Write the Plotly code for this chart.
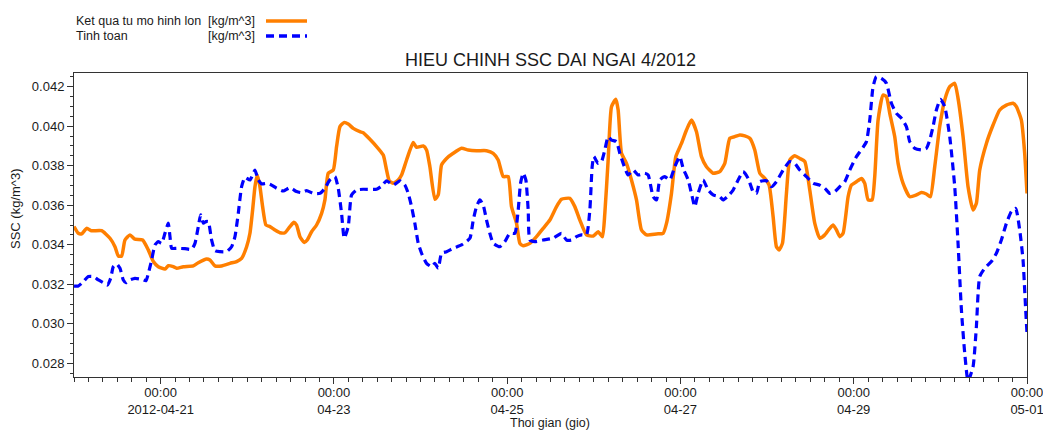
import pandas as pd
import plotly.graph_objects as go

# Hours since 2012-04-20 00:00 and SSC values (kg/m^3)
model_hours = [0.0, 1.2, 2.12, 3.51, 4.89, 7.66, 9.97, 11.35, 12.28, 13.2, 14.12, 15.51, 16.89, 19.01, 20.58,
               21.97, 23.35, 25.2, 26.12, 27.51, 28.43, 30.28, 33.05, 34.43, 36.74, 37.66, 39.05, 40.89, 43.2,
               45.05, 46.43, 47.82, 48.74, 49.48, 50.13, 50.77, 51.51, 52.25, 53.17, 54.28, 55.66, 57.05, 58.43,
               59.82, 60.93, 61.66, 62.59, 63.79, 64.62, 65.82, 67.2, 68.59, 69.51, 70.43, 71.82, 72.74, 73.67,
               74.77, 75.97, 77.36, 79.2, 80.13, 81.97, 83.82, 85.67, 86.59, 87.33, 88.43, 89.82,
               90.74, 92.13, 93.97, 94.9, 96.74, 97.66, 98.59, 99.97, 100.9, 101.82, 103.2, 105.05, 107.36, 109.2,
               111.51, 114.28, 116.13, 117.51, 118.9, 120.28, 121.2, 122.59, 123.51, 124.43, 126.28, 128.13,
               129.97, 131.82, 133.67, 135.05, 137.36, 138.74, 140.13, 141.97, 143.82, 145.2, 146.4, 147.05,
               147.97, 148.9, 150.1, 150.74, 151.67, 153.05, 154.43, 155.82, 157.2, 158.59, 161.36, 163.2, 164.13,
               165.51, 166.71, 168.28, 169.67, 171.05, 172.44, 173.82, 175.2, 177.05, 178.9,
               180.28, 181.67, 183.05, 184.44, 185.82, 187.21, 188.59, 189.98, 191.36, 192.56, 193.67, 194.59,
               195.33, 196.25, 197.36, 198.28, 199.67, 201.05, 202.44, 203.82, 205.21, 206.59, 207.98, 209.36,
               210.29, 211.21, 212.13, 213.05, 214.44, 215.36, 216.75, 218.13, 219.05, 219.98, 221.09, 221.82,
               222.75, 224.13, 225.05, 225.98, 227.36, 228.29, 229.67, 231.52, 233.36, 234.75, 236.13, 237.24,
               238.44, 239.82, 241.21, 242.6, 243.98, 244.9, 246.29, 247.67, 249.06, 249.98, 250.9, 252.75,
               254.6, 256.44, 258.29, 260.13, 261.06, 262.44, 263.36, 264.0]
model_ssc = [0.03492, 0.03458, 0.03455, 0.03483, 0.03471, 0.03471, 0.03433, 0.0339, 0.03343, 0.03343, 0.03424,
             0.0345, 0.03428, 0.03424, 0.03374, 0.03315, 0.03289, 0.03277, 0.03294, 0.03289, 0.03281, 0.03289,
             0.03293, 0.03309, 0.03328, 0.03323, 0.03293, 0.03293, 0.03306, 0.03315, 0.03331, 0.0339, 0.03458,
             0.03576, 0.03694, 0.03753, 0.03694, 0.03593, 0.035, 0.03492, 0.03475, 0.03461, 0.03461, 0.03492,
             0.03514, 0.035, 0.03441, 0.03411, 0.03424, 0.03466, 0.035, 0.03559, 0.03627, 0.03762, 0.03778,
             0.03897, 0.03998, 0.04018, 0.04011, 0.03989, 0.03972, 0.03967, 0.03934, 0.03897, 0.03854, 0.03778,
             0.03724, 0.03711, 0.03728,
             0.03753, 0.03829, 0.03917, 0.03893, 0.039, 0.0388, 0.03795, 0.0363, 0.03652, 0.03804, 0.03837,
             0.03863, 0.03888, 0.0388, 0.03876, 0.03876, 0.03863, 0.03829, 0.03745, 0.03745, 0.03593, 0.03508,
             0.03407, 0.03395, 0.03407, 0.03441, 0.03483, 0.03525, 0.03593, 0.0363, 0.03635, 0.03593, 0.03525,
             0.0345, 0.03444, 0.03466, 0.03441, 0.03559, 0.03829, 0.04099, 0.04136, 0.04082, 0.03863, 0.03812,
             0.03728, 0.03627, 0.03475, 0.0345, 0.03455, 0.03458, 0.03508, 0.0366, 0.03846, 0.03913, 0.03981,
             0.04031, 0.03972, 0.03846, 0.03795, 0.03762, 0.0377,
             0.03812, 0.03939, 0.03947, 0.03956, 0.03951, 0.03939, 0.0388, 0.03762, 0.03736, 0.03702, 0.03542,
             0.0339, 0.03374, 0.03407, 0.0366, 0.03829, 0.03851, 0.03837, 0.03821, 0.03677, 0.03508, 0.03433,
             0.0345, 0.03483, 0.035, 0.03475, 0.03441, 0.03458, 0.03643, 0.03702, 0.03719, 0.03736, 0.03711,
             0.03627, 0.03627, 0.03745, 0.04031, 0.04158, 0.0415, 0.04065, 0.03947, 0.03812, 0.03711, 0.03643,
             0.03652, 0.03664, 0.03657, 0.03643, 0.03795, 0.03998, 0.04133, 0.042, 0.04217, 0.04141, 0.03947,
             0.03694, 0.03576, 0.0361, 0.03778, 0.03913, 0.04006, 0.04082, 0.04107, 0.04116, 0.04099, 0.04031,
             0.03863, 0.0366]

calc_hours = [0.0, 1.2, 2.58, 3.97, 5.35, 6.74, 8.12, 9.23, 10.15, 10.89, 11.82, 12.74, 13.66, 14.4, 15.51, 16.89,
              18.74, 19.94, 20.59, 21.51, 22.43, 23.35, 24.28, 25.2, 26.12, 26.59, 27.05, 28.43, 30.74, 32.59,
              33.51, 34.43, 35.08, 35.82, 36.55, 37.2, 38.12, 39.05, 40.43, 42.28, 43.66, 44.59, 45.51, 46.43,
              47.35, 48.74, 50.12, 51.05, 51.97, 53.36, 54.74, 56.12, 57.97, 59.82, 61.66, 63.05, 64.43, 66.28,
              68.12, 69.51, 70.89, 72.28, 73.2, 74.12, 74.86, 75.97, 76.89, 78.28, 80.13, 83.82, 85.2, 86.59,
              88.43, 89.82,
              90.28, 91.66, 92.59, 93.51, 94.43, 95.36, 96.28, 97.66, 99.05, 99.97, 100.9, 101.82, 103.2, 105.05,
              107.36, 109.67, 110.59, 111.51, 112.43, 113.36, 114.28, 115.2, 116.13, 117.97, 119.36, 120.74,
              122.13, 123.05, 123.7, 124.43, 125.17, 125.82, 126.28, 127.67, 129.97, 132.74, 135.05, 136.43,
              137.82, 139.2, 140.59, 141.97, 142.9, 143.54, 144.0, 145.2, 146.13, 147.05, 147.97, 148.9, 150.28,
              151.2, 152.13, 153.51, 154.9, 156.28, 158.13, 159.05, 160.44, 161.36, 162.28, 163.67, 165.05,
              166.44, 167.82, 168.74, 170.13, 171.05, 171.97, 172.9, 174.28, 175.67, 177.05, 178.9,
              179.82, 181.21, 182.59, 183.98, 185.36, 186.75, 188.13, 189.05, 189.98, 191.82, 193.21, 194.59,
              196.44, 198.28, 199.67, 201.05, 202.9, 204.75, 206.59, 207.98, 209.36, 210.75, 212.13, 213.52,
              214.9, 216.75, 218.59, 219.52, 220.44, 221.36, 222.29, 223.67, 225.06, 226.44, 227.82, 229.21,
              230.59, 231.52, 232.9, 234.75, 236.13, 237.06, 237.98, 238.9, 240.01, 241.21, 242.6, 243.98,
              244.9, 245.83, 246.75, 247.67, 249.06, 249.98, 250.9, 252.29, 254.13, 255.52, 256.9, 258.29,
              259.67, 260.87, 261.98, 262.9, 263.64, 264.0]
calc_ssc = [0.03191, 0.03191, 0.03213, 0.03239, 0.03239, 0.03222, 0.03208, 0.03196, 0.0323, 0.03289, 0.03303,
            0.03281, 0.03222, 0.03208, 0.03222, 0.0323, 0.03225, 0.03218, 0.03255, 0.03323, 0.03399, 0.03416,
            0.03407, 0.03458, 0.03509, 0.03441, 0.03382, 0.03382, 0.0338, 0.03377, 0.03407, 0.03492, 0.03551,
            0.03509, 0.03517, 0.03517, 0.03424, 0.0337, 0.03365, 0.03365, 0.0339, 0.03441, 0.03559, 0.03694,
            0.03741, 0.03728, 0.03778, 0.03728, 0.03708, 0.03711, 0.03702, 0.03686, 0.03672, 0.03689, 0.03669,
            0.03664, 0.03674, 0.0366, 0.0366, 0.03686, 0.03728, 0.03745, 0.03686, 0.03559, 0.03433, 0.03492,
            0.03652, 0.03677, 0.03681, 0.03681, 0.03697, 0.03724, 0.03702, 0.03719,
            0.03724, 0.03702, 0.0366, 0.03593, 0.03508, 0.03407, 0.03357, 0.03306, 0.03289, 0.03306, 0.03281,
            0.03357, 0.03365, 0.03382, 0.03399, 0.03433, 0.03525, 0.03593, 0.03627, 0.03601, 0.03525, 0.03458,
            0.03407, 0.0339, 0.03416, 0.03458, 0.03458, 0.03576, 0.03711, 0.03762, 0.03728, 0.03576, 0.03424,
            0.03416, 0.03424, 0.03433, 0.03458, 0.03424, 0.03424, 0.03441, 0.0345, 0.0345, 0.03576, 0.03795,
            0.03846, 0.03812, 0.03821, 0.0388, 0.03947, 0.0393, 0.03922, 0.03863, 0.03812, 0.03753, 0.03778,
            0.03753, 0.03762, 0.03753, 0.03643, 0.03627, 0.03728, 0.03745, 0.03728, 0.03795, 0.03846, 0.03787,
            0.03728, 0.0366, 0.03593, 0.0366, 0.03728, 0.03677, 0.03652, 0.03643,
            0.03627, 0.03647, 0.03677, 0.03728, 0.0377, 0.03736, 0.03669, 0.0366, 0.03719, 0.03724, 0.03694,
            0.03719, 0.03778, 0.03821, 0.03812, 0.03778, 0.03745, 0.03711, 0.03702, 0.03686, 0.0366, 0.03669,
            0.03694, 0.03719, 0.03778, 0.03846, 0.03893, 0.03922, 0.04031, 0.042, 0.04251, 0.04242, 0.04217,
            0.04116, 0.04065, 0.0404, 0.03998, 0.03922, 0.03888, 0.0388, 0.03888, 0.0393, 0.03998, 0.04082,
            0.04136, 0.04099, 0.03947, 0.03694, 0.03407, 0.0307, 0.02851, 0.0271, 0.02783, 0.02986, 0.03239,
            0.03281, 0.03315, 0.03357, 0.03424, 0.03508, 0.03568, 0.03584, 0.03475, 0.03323, 0.0307, 0.02952]

tick_dates = ["2012-04-21", "2012-04-23", "2012-04-25", "2012-04-27", "2012-04-29", "2012-05-01"]
tick_labels = ["00:00<br>2012-04-21", "00:00<br>04-23", "00:00<br>04-25", "00:00<br>04-27",
               "00:00<br>04-29", "00:00<br>05-01"]
y_ticks = [0.028, 0.030, 0.032, 0.034, 0.036, 0.038, 0.040, 0.042]

series_names = ["Ket qua tu mo hinh lon", "Tinh toan"]
unit_label = "[kg/m^3]"

base = pd.Timestamp("2012-04-20 00:00")
model_t = [base + pd.Timedelta(hours=h) for h in model_hours]
calc_t = [base + pd.Timedelta(hours=h) for h in calc_hours]

ORANGE = "#FF7F00"
BLUE = "#0000FF"
FONT = "Liberation Sans, Arial, sans-serif"
TXT = "#1a1a1a"
AX = "#333333"

L, R, T, B = 74, 1027, 73, 377
W, H = 1043, 430

fig = go.Figure()
fig.add_trace(go.Scatter(x=model_t, y=model_ssc, mode="lines", name=series_names[0],
                         line=dict(color=ORANGE, width=3.5, shape="spline", smoothing=0.5),
                         showlegend=False))
fig.add_trace(go.Scatter(x=calc_t, y=calc_ssc, mode="lines", name=series_names[1],
                         line=dict(color=BLUE, width=3.2, dash="8px,5px", shape="spline", smoothing=0.5),
                         showlegend=False))

fig.update_layout(
    width=W, height=H,
    margin=dict(l=L, r=W - R, t=T, b=H - B, autoexpand=False),
    paper_bgcolor="white", plot_bgcolor="white",
    font=dict(family=FONT, size=13, color=TXT),
    title=dict(text="HIEU CHINH SSC DAI NGAI 4/2012", x=0.5, xref="paper", xanchor="center",
               y=1.0 - 59.5 / H, yref="container", yanchor="middle",
               font=dict(size=18, color=TXT, family=FONT)),
)

fig.update_xaxes(
    range=["2012-04-20 00:00", "2012-05-01 00:00"],
    tickvals=tick_dates, ticktext=tick_labels, ticklabeloverflow="allow", ticklabelstandoff=-3,
    ticks="outside", ticklen=6, tickwidth=1, tickcolor=AX,
    showline=True, linecolor=AX, linewidth=1, mirror=True,
    showgrid=False, zeroline=False, automargin=False,
    minor=dict(dtick=4 * 3600 * 1000, tick0="2012-04-20", ticks="outside", ticklen=4,
               tickcolor=AX, showgrid=False),
    tickfont=dict(size=13, color=TXT),
)
fig.update_yaxes(
    range=[0.027307, 0.042693],
    tickvals=y_ticks, tickformat=".3f",
    ticks="outside", ticklen=6, tickwidth=1, tickcolor=AX,
    showline=True, linecolor=AX, linewidth=1, mirror=True,
    showgrid=False, zeroline=False, automargin=False,
    minor=dict(dtick=0.0005, tick0=0.028, ticks="outside", ticklen=3, tickcolor=AX, showgrid=False),
    tickfont=dict(size=13, color=TXT),
)


def px_x(px):
    return (px - L) / float(R - L)


def px_y(py):
    return (B - py) / float(B - T)


# Axis titles
fig.add_annotation(x=px_x(550), y=px_y(423), xref="paper", yref="paper", text="Thoi gian (gio)",
                   showarrow=False, xanchor="center", yanchor="middle",
                   font=dict(size=12.5, color=TXT, family=FONT))
fig.add_annotation(x=px_x(16), y=px_y(209), xref="paper", yref="paper", text="SSC (kg/m^3)",
                   showarrow=False, xanchor="center", yanchor="middle", textangle=-90,
                   font=dict(size=13, color=TXT, family=FONT))

# Custom legend (text left, unit right-aligned, line sample at right)
rows = [(21, series_names[0], ORANGE, "solid"), (36, series_names[1], BLUE, "8px,5px")]
for py, name, color, dash in rows:
    fig.add_annotation(x=px_x(74), y=px_y(py), xref="paper", yref="paper", text=name,
                       showarrow=False, xanchor="left", yanchor="middle",
                       font=dict(size=12.5, color=TXT, family=FONT))
    fig.add_annotation(x=px_x(257), y=px_y(py), xref="paper", yref="paper", text=unit_label,
                       showarrow=False, xanchor="right", yanchor="middle",
                       font=dict(size=12.5, color=TXT, family=FONT))
    fig.add_shape(type="line", xref="paper", yref="paper", x0=px_x(266), x1=px_x(307),
                  y0=px_y(py), y1=px_y(py), line=dict(color=color, width=3.5, dash=dash))

fig.write_html("out.html")
